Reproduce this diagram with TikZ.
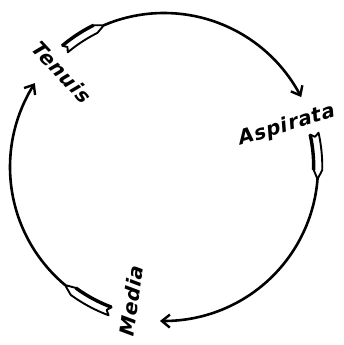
\documentclass[tikz,border=0pt]{standalone}
\usepackage{fontspec}
\setmainfont{DejaVu Sans}
\newfontfamily\lblfont{DejaVu Sans}[FakeSlant=0.22,LetterSpace=4]
\usetikzlibrary{arrows.meta}
\newcommand\nibdraw[3]{%
  \pgfmathsetmacro\nibA{#1}%
  \pgfmathsetmacro\nibB{#2}%
  \pgfmathsetmacro\nibD{#2-#1}%
  \pgfmathsetmacro\nibK{\nibB-0.2*\nibD}%
  \pgfmathsetmacro\nibN{\nibA+0.07*\nibD}%
  \filldraw[nibline] (\nibB:154) -- (\nibK:158.3)
     -- plot[domain=\nibK:\nibA,samples=12] (\x:158.3)
     -- (\nibN:154) -- (\nibA:149.7)
     -- plot[domain=\nibA:\nibK,samples=12] (\x:149.7) -- cycle;
  \draw[nibthick] plot[domain=\nibK:\nibA,samples=12] (\x:#3);
}
\tikzset{
  ring/.style={line width=2.6pt, line cap=round},
  tip/.style={-{Straight Barb[length=8pt,width=13pt,line width=2.4pt]}},
  nibline/.style={line width=1.9pt, fill=white, line join=round},
  nibthick/.style={line width=3.4pt},
  lbl/.style={font=\lblfont\fontsize{20}{20}\selectfont\bfseries, inner sep=0pt}
}
\begin{document}
\begin{tikzpicture}[x=1pt,y=-1pt]
\useasboundingbox[fill=white] (0,0) rectangle (343,345);
\coordinate (C) at (164,167);
\node[lbl, rotate=-47] (tenuis) at (61,71) {Tenuis};
\node[lbl, rotate=17] (aspirata) at (286,126) {Aspirata};
\node[lbl, rotate=82] (media) at (131,302) {Media};
\begin{scope}[shift={(C)}]
  % top arc: Tenuis -> Aspirata
  \draw[ring, tip] plot[domain=247:333,samples=60] (\x:154);
  \nibdraw{230}{247}{158.3}
  % right arc: Aspirata -> Media
  \draw[ring, tip] plot[domain=4.5:91.5,samples=60] (\x:154);
  \nibdraw{-12.5}{4.5}{149.7}
  % left arc: Media -> Tenuis
  \draw[ring, tip] plot[domain=130:213,samples=60] (\x:154);
  \nibdraw{110.5}{130}{149.7}
\end{scope}
\end{tikzpicture}
\end{document}
